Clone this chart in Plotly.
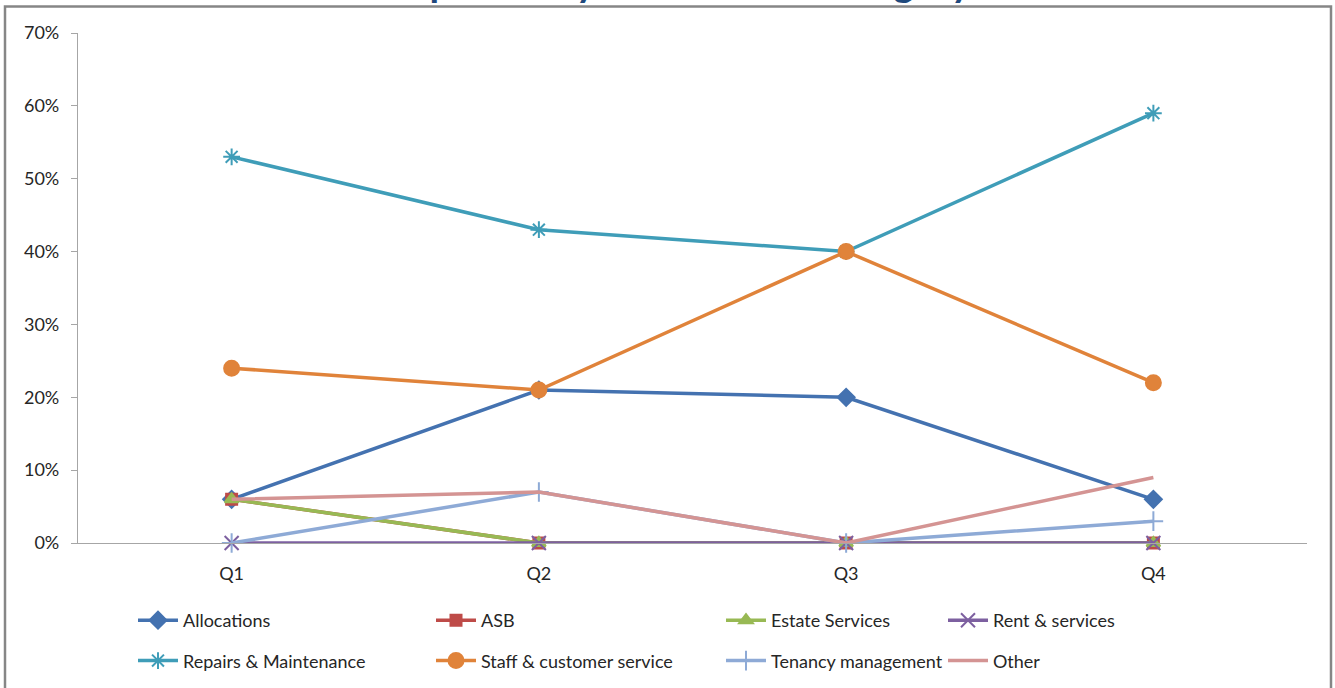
import plotly.graph_objects as go

# Quarterly share of complaints by category
quarters = ["Q1", "Q2", "Q3", "Q4"]

allocations = [0.06, 0.21, 0.20, 0.06]
asb = [0.06, 0.00, 0.00, 0.00]
estate_services = [0.06, 0.00, 0.00, 0.00]
rent_services = [0.00, 0.00, 0.00, 0.00]
repairs_maintenance = [0.53, 0.43, 0.40, 0.59]
staff_customer_service = [0.24, 0.21, 0.40, 0.22]
tenancy_management = [0.00, 0.07, 0.00, 0.03]
other = [0.06, 0.07, 0.00, 0.09]

y_ticks = [0, 0.1, 0.2, 0.3, 0.4, 0.5, 0.6, 0.7]

FONT = "Lato"
TEXT = "#262626"
AXIS = "#A6A6A6"

series = [
    # name, values, colour, marker symbol, marker size, legend column
    ("Allocations", allocations, "#4472B0", "diamond", 13, "legend"),
    ("ASB", asb, "#BE4B48", "square", 11, "legend2"),
    ("Estate Services", estate_services, "#98B954", "triangle-up", 12, "legend3"),
    ("Rent & services", rent_services, "#7D60A0", "x-thin-open", 14, "legend4"),
    ("Repairs & Maintenance", repairs_maintenance, "#3F9DB8", "asterisk-open", 14, "legend"),
    ("Staff & customer service", staff_customer_service, "#E0833A", "circle", 15, "legend2"),
    ("Tenancy management", tenancy_management, "#8EAAD6", "cross-thin-open", 14, "legend3"),
    ("Other", other, "#D49493", None, 0, "legend4"),
]

fig = go.Figure()
for name, vals, col, sym, size, leg in series:
    mode = "lines+markers" if sym else "lines"
    marker = dict(symbol=sym, size=size, color=col, line=dict(color=col, width=2)) if sym else None
    fig.add_trace(go.Scatter(
        x=quarters, y=vals, name=name, mode=mode,
        line=dict(color=col, width=3.5),
        marker=marker, cliponaxis=False,
        legend=leg, legendgroup=name,
    ))

plot_l, plot_r, plot_t, plot_b = 78, 28, 33, 145
W, H = 1335, 688
pw = W - plot_l - plot_r
ph = H - plot_t - plot_b


def px_x(px):
    return (px - plot_l) / pw


def px_y(py):
    return (H - plot_b - py) / ph


legend_style = dict(
    orientation="v", xanchor="left", yanchor="top",
    font=dict(family=FONT, size=18, color=TEXT),
    itemwidth=40, tracegroupgap=14, bgcolor="rgba(0,0,0,0)",
)
legend_cols = [133, 431, 721, 943]
layout_legends = {}
for i, key in enumerate(["legend", "legend2", "legend3", "legend4"]):
    layout_legends[key] = dict(legend_style, x=px_x(legend_cols[i]), y=px_y(602))

fig.update_layout(
    width=W, height=H,
    margin=dict(l=plot_l, r=plot_r, t=plot_t, b=plot_b, autoexpand=False),
    paper_bgcolor="white", plot_bgcolor="white",
    font=dict(family=FONT, color=TEXT),
    showlegend=True,
    **layout_legends,
    xaxis=dict(
        type="category", range=[-0.5, 3.5],
        showline=True, linecolor=AXIS, linewidth=1.3,
        ticks="", showgrid=False, zeroline=False,
        tickfont=dict(family=FONT, size=18, color=TEXT),
        ticklabelstandoff=14,
    ),
    yaxis=dict(
        range=[0, 0.7], tickvals=y_ticks, tickformat=".0%",
        showline=True, linecolor=AXIS, linewidth=1.3,
        ticks="outside", ticklen=6, tickcolor=AXIS, tickwidth=1.3,
        showgrid=False, zeroline=False,
        tickfont=dict(family=FONT, size=18, color=TEXT),
        ticklabelstandoff=8,
    ),
    shapes=[dict(
        type="rect", xref="paper", yref="paper",
        x0=px_x(5), x1=px_x(1331), y0=px_y(720), y1=px_y(6.5),
        line=dict(color="#868686", width=2.5), fillcolor="rgba(0,0,0,0)",
        layer="below",
    )],
    annotations=[dict(
        text="<b>Complaints by service area category</b>",
        xref="paper", yref="paper", x=px_x(660), y=px_y(-18),
        xanchor="center", yanchor="middle", showarrow=False,
        font=dict(family="Lato", size=39, color="#1F497D"),
    )],
)

fig.write_html("out.html")
